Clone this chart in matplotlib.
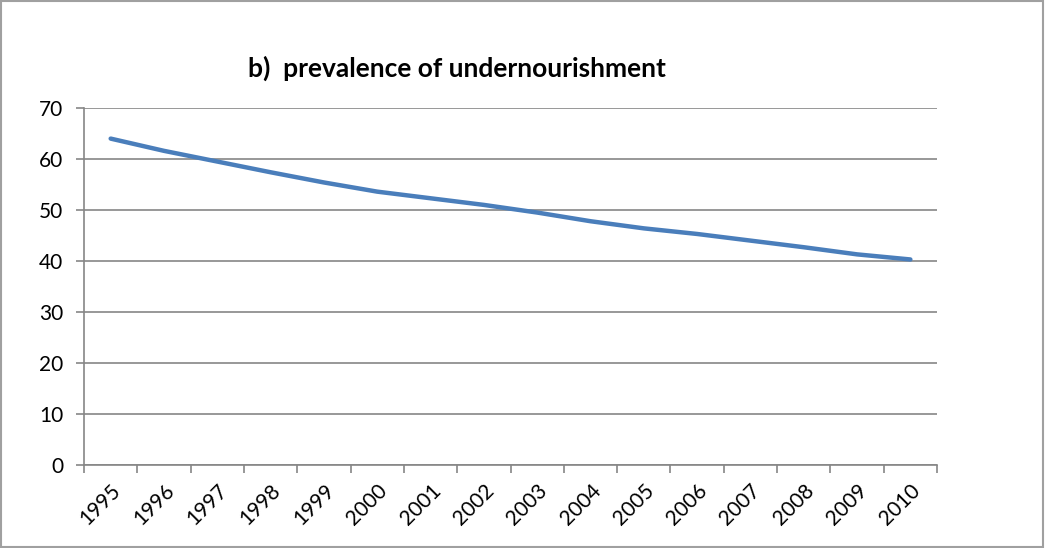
import matplotlib.pyplot as plt
import numpy as np
from matplotlib.patches import Rectangle

# Data
years = ['1995', '1996', '1997', '1998', '1999', '2000', '2001', '2002',
         '2003', '2004', '2005', '2006', '2007', '2008', '2009', '2010']
prevalence = [64.0, 61.6, 59.5, 57.4, 55.4, 53.6, 52.3, 51.0,
              49.5, 47.8, 46.4, 45.3, 44.0, 42.7, 41.3, 40.3]
y_ticks = [0, 10, 20, 30, 40, 50, 60, 70]

plt.rcParams['font.family'] = ['Lato', 'DejaVu Sans']

fig = plt.figure(figsize=(10.45, 5.48), dpi=100)
ax = fig.add_axes([0.0804, 0.1515, 0.8163, 0.6514])

x = np.arange(len(years))
ax.plot(x, prevalence, color='#4a7ebb', linewidth=3.2, solid_capstyle='round',
        solid_joinstyle='round', zorder=3)

grid_col = '#868686'
ax.set_ylim(0, 70)
ax.set_yticks(y_ticks)
ax.set_xlim(-0.5, len(years) - 0.5)
ax.grid(axis='y', color=grid_col, linewidth=1.2)
ax.set_axisbelow(True)

# major ticks on category boundaries, labels on centres
ax.set_xticks(np.arange(-0.5, len(years), 1.0))
ax.set_xticklabels([])
ax.set_xticks(x, minor=True)
ax.set_xticklabels(years, minor=True, rotation=45, ha='right', va='top',
                   rotation_mode='anchor', fontsize=15)
ax.tick_params(axis='x', which='minor', length=0, pad=11)
ax.tick_params(axis='x', which='major', length=6, color=grid_col, width=1.2)
ax.tick_params(axis='y', length=6, color=grid_col, width=1.2, labelsize=15, pad=9)

for side in ['top', 'right']:
    ax.spines[side].set_visible(False)
for side in ['left', 'bottom']:
    ax.spines[side].set_color(grid_col)
    ax.spines[side].set_linewidth(1.2)

fig.text(0.437, 0.875, 'b)  prevalence of undernourishment', ha='center', va='center',
         fontsize=19, fontweight='bold')

# outer chart border
fig.patches.append(Rectangle((0.001, 0.001), 0.997, 0.997, transform=fig.transFigure,
                             fill=False, edgecolor='#a0a0a0', linewidth=1.5))

plt.savefig('out.png', dpi=100)
